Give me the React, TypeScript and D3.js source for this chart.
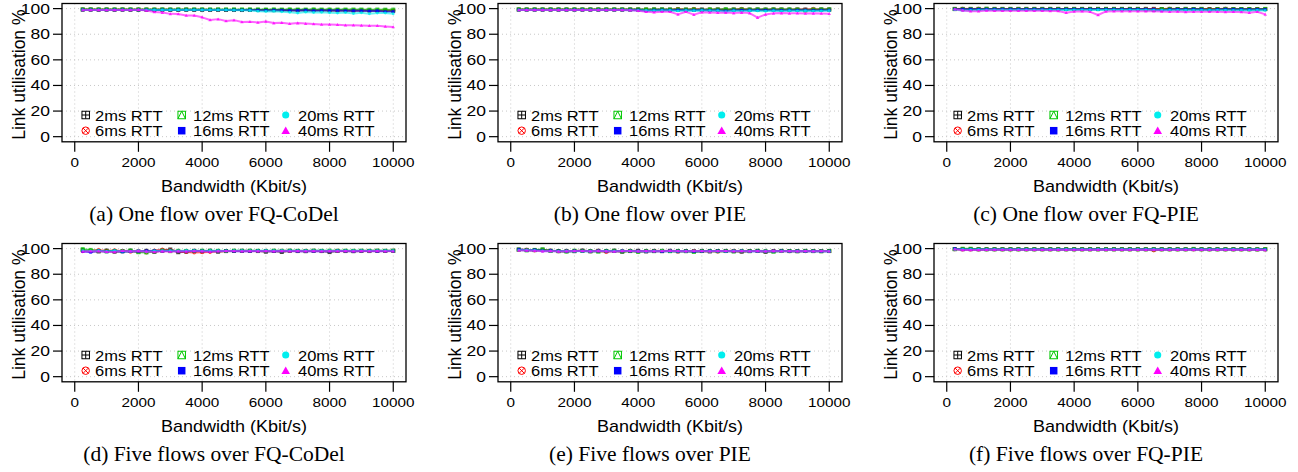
import React from "react";
import * as d3 from "d3";

// bandwidth steps (Kbit/s)
const bandwidth = [
  250, 500, 750, 1000, 1250, 1500, 1750, 2000, 2250, 2500,
  2750, 3000, 3250, 3500, 3750, 4000, 4250, 4500, 4750, 5000,
  5250, 5500, 5750, 6000, 6250, 6500, 6750, 7000, 7250, 7500,
  7750, 8000, 8250, 8500, 8750, 9000, 9250, 9500, 9750, 10000,
];

const rttLabels = ["2ms RTT", "6ms RTT", "12ms RTT", "16ms RTT", "20ms RTT", "40ms RTT"];
const rttColours = ["#000000", "#ff0000", "#00c800", "#0000ff", "#00eeee", "#ff00ff"];
const captions = [
  "(a) One flow over FQ-CoDel",
  "(b) One flow over PIE",
  "(c) One flow over FQ-PIE",
  "(d) Five flows over FQ-CoDel",
  "(e) Five flows over PIE",
  "(f) Five flows over FQ-PIE",
];
const xTicks = [0, 2000, 4000, 6000, 8000, 10000];
const yTicks = [0, 20, 40, 60, 80, 100];

// (a) one flow, FQ-CoDel
const a2 = [
  99.3, 99.3, 99.2, 99.3, 99.2, 99.3, 99.2, 99.2, 99.2, 99.1,
  99.2, 99.1, 99.1, 99.2, 99.1, 99.1, 99.0, 99.1, 99.0, 99.0,
  98.9, 99.0, 98.9, 98.9, 98.8, 98.9, 98.8, 98.8, 98.7, 98.8,
  98.7, 98.6, 98.7, 98.6, 98.5, 98.6, 98.5, 98.4, 98.5, 98.3,
];
const a6 = [
  99.2, 99.2, 99.2, 99.2, 99.1, 99.2, 99.1, 99.2, 99.1, 99.1,
  99.1, 99.1, 99.0, 99.1, 99.0, 99.1, 99.0, 99.0, 99.0, 98.9,
  99.0, 98.9, 98.9, 98.9, 98.8, 98.9, 98.8, 98.8, 98.8, 98.7,
  98.8, 98.7, 98.7, 98.6, 98.7, 98.6, 98.6, 98.5, 98.6, 98.5,
];
const a12 = [
  99.4, 99.4, 99.4, 99.4, 99.4, 99.4, 99.4, 99.4, 99.4, 99.4,
  99.4, 99.4, 99.4, 99.4, 99.4, 99.4, 99.4, 99.4, 99.4, 99.4,
  99.4, 99.4, 99.4, 99.3, 99.4, 99.3, 99.4, 99.3, 99.3, 99.4,
  99.3, 99.3, 99.3, 99.3, 99.3, 99.3, 99.2, 99.3, 99.2, 99.2,
];
const a16 = [
  99.0, 99.0, 99.0, 99.0, 99.0, 99.0, 99.0, 99.0, 99.0, 99.0,
  99.0, 99.0, 99.0, 99.0, 99.0, 99.0, 99.0, 99.0, 99.0, 98.9,
  98.9, 98.9, 98.8, 98.6, 98.8, 98.7, 98.5, 98.6, 98.8, 98.4,
  98.6, 98.5, 98.6, 98.3, 98.4, 98.3, 98.2, 98.3, 97.6, 97.7,
];
const a20 = [
  99.0, 99.0, 99.0, 99.0, 99.0, 99.0, 99.0, 99.0, 99.0, 99.0,
  99.0, 99.0, 99.0, 99.0, 99.0, 98.9, 98.9, 98.9, 98.9, 98.8,
  98.8, 98.5, 98.0, 97.8, 98.0, 97.5, 97.2, 96.6, 97.4, 97.0,
  97.2, 96.8, 96.5, 96.9, 96.2, 96.7, 96.0, 96.5, 96.6, 96.0,
];
const a40 = [
  99.0, 99.0, 99.0, 99.0, 99.0, 99.0, 99.0, 99.1, 98.5, 97.4,
  96.9, 95.9, 95.8, 94.7, 94.6, 93.2, 91.1, 91.8, 90.3, 91.0,
  89.5, 89.8, 89.2, 90.0, 88.7, 89.0, 88.2, 88.7, 88.3, 88.0,
  87.6, 87.6, 87.4, 87.1, 87.0, 86.9, 86.6, 86.7, 86.1, 85.6,
];

// (b) one flow, PIE
const b2 = [
  99.3, 99.3, 99.3, 99.3, 99.3, 99.3, 99.3, 99.3, 99.3, 99.3,
  99.3, 99.3, 99.3, 99.3, 99.3, 99.3, 99.2, 99.3, 99.3, 99.2,
  99.3, 99.2, 99.3, 99.3, 99.2, 99.3, 99.2, 99.3, 99.3, 99.2,
  99.3, 99.2, 99.3, 99.3, 99.2, 99.3, 99.3, 99.2, 99.3, 99.3,
];
const b6 = [
  99.2, 99.2, 99.2, 99.2, 99.2, 99.2, 99.2, 99.2, 99.2, 99.2,
  99.2, 99.2, 99.2, 99.2, 99.2, 99.2, 99.2, 99.2, 99.2, 99.2,
  99.8, 99.2, 99.8, 99.1, 99.2, 99.3, 99.1, 99.2, 99.8, 99.2,
  99.1, 99.2, 99.3, 99.2, 99.2, 99.3, 99.2, 99.8, 99.2, 99.3,
];
const b12 = [
  99.4, 99.4, 99.4, 99.4, 99.4, 99.4, 99.4, 99.4, 99.4, 99.4,
  99.4, 99.4, 99.4, 99.4, 99.4, 99.4, 99.4, 99.4, 99.4, 99.3,
  99.4, 99.3, 99.4, 99.0, 99.4, 99.3, 99.5, 99.3, 99.4, 99.3,
  99.4, 99.3, 99.4, 99.3, 99.4, 99.3, 98.5, 99.3, 99.4, 99.4,
];
const b16 = [
  99.0, 99.0, 99.0, 99.0, 99.0, 99.0, 99.0, 99.0, 99.0, 99.0,
  99.0, 99.0, 99.0, 99.0, 99.0, 98.9, 98.3, 98.8, 98.9, 98.8,
  98.9, 98.8, 98.7, 98.9, 98.5, 98.8, 98.2, 98.8, 98.7, 98.8,
  98.8, 98.7, 98.8, 98.6, 98.8, 98.7, 98.8, 98.6, 98.7, 98.8,
];
const b20 = [
  98.9, 98.9, 98.9, 98.9, 98.9, 98.9, 98.9, 98.9, 98.9, 98.9,
  98.9, 98.9, 98.9, 98.9, 98.8, 98.6, 98.5, 98.4, 98.5, 98.6,
  98.2, 98.5, 98.4, 98.5, 98.3, 98.4, 97.6, 98.4, 97.9, 98.3,
  98.2, 98.0, 98.3, 98.1, 98.3, 98.2, 98.3, 98.1, 98.2, 98.3,
];
const b40 = [
  99.0, 99.0, 99.0, 99.0, 99.0, 99.0, 99.0, 99.0, 99.0, 99.0,
  99.0, 99.0, 99.0, 99.0, 98.8, 98.3, 97.5, 97.2, 97.5, 97.6,
  95.5, 97.5, 95.3, 97.2, 97.0, 96.8, 96.9, 96.5, 96.9, 96.5,
  93.0, 95.5, 96.3, 96.5, 96.3, 96.4, 96.2, 96.3, 96.2, 96.0,
];

// (c) one flow, FQ-PIE
const c2 = [
  99.8, 99.8, 99.8, 99.8, 99.8, 99.8, 99.8, 99.8, 99.8, 99.8,
  99.8, 99.8, 99.8, 99.8, 99.8, 99.8, 99.8, 99.8, 99.8, 99.8,
  99.8, 99.8, 99.8, 99.8, 99.8, 99.8, 99.7, 99.8, 99.7, 99.8,
  99.7, 99.8, 99.7, 99.7, 99.8, 99.7, 99.7, 99.6, 99.7, 99.6,
];
const c6 = [
  99.7, 99.9, 99.7, 99.9, 99.7, 99.7, 99.7, 99.7, 99.7, 99.7,
  99.7, 99.7, 99.7, 99.7, 99.7, 99.7, 99.7, 99.7, 99.7, 99.7,
  99.7, 99.7, 99.7, 99.7, 99.8, 99.7, 99.7, 99.9, 99.7, 99.7,
  99.7, 99.7, 99.7, 99.7, 99.9, 99.7, 99.6, 99.7, 99.7, 99.6,
];
const c12 = [
  99.6, 99.6, 99.6, 99.6, 99.9, 99.6, 99.6, 99.6, 99.6, 99.6,
  99.6, 99.6, 99.6, 99.6, 99.6, 99.6, 99.6, 99.6, 99.6, 99.6,
  99.6, 99.6, 99.6, 99.6, 99.3, 99.0, 99.6, 99.6, 99.6, 99.6,
  99.6, 99.6, 99.2, 99.6, 99.6, 99.6, 99.6, 99.6, 99.5, 99.8,
];
const c16 = [
  99.5, 99.5, 99.5, 99.5, 99.5, 99.5, 99.5, 99.5, 99.5, 99.5,
  99.5, 99.5, 99.5, 99.5, 99.5, 99.5, 99.5, 99.5, 99.5, 99.5,
  99.5, 99.5, 99.5, 99.5, 99.5, 99.4, 98.8, 99.4, 99.5, 99.4,
  99.5, 99.4, 99.0, 99.4, 99.5, 99.4, 99.4, 99.3, 99.4, 99.3,
];
const c20 = [
  99.2, 98.6, 98.5, 98.8, 99.0, 99.0, 99.0, 99.0, 99.0, 99.0,
  99.0, 99.0, 99.0, 99.0, 99.0, 99.0, 99.0, 99.0, 99.0, 99.0,
  99.0, 99.0, 99.0, 99.0, 98.9, 98.8, 98.7, 98.8, 98.7, 98.8,
  98.7, 98.8, 98.7, 98.8, 98.7, 98.6, 98.7, 98.6, 98.8, 98.6,
];
const c40 = [
  99.5, 98.5, 98.0, 98.0, 98.5, 98.3, 98.3, 98.3, 98.3, 98.3,
  98.3, 98.3, 98.2, 98.2, 96.8, 97.8, 98.0, 97.5, 95.0, 97.8,
  98.0, 98.0, 98.0, 98.0, 98.0, 98.0, 97.8, 97.5, 97.7, 97.3,
  97.5, 97.5, 97.5, 97.5, 97.4, 97.5, 97.4, 96.8, 97.5, 95.5,
];

// (d) five flows, FQ-CoDel
const d2 = [
  98.8, 98.2, 97.8, 98.5, 97.6, 98.0, 98.4, 97.8, 98.3, 97.5,
  98.5, 99.3, 97.2, 97.6, 98.3, 97.9, 98.4, 97.6, 98.1, 98.2,
  98.3, 98.2, 98.1, 97.6, 98.2, 97.4, 98.3, 98.1, 98.0, 98.3,
  98.1, 97.3, 98.2, 98.1, 98.0, 98.2, 98.1, 98.3, 98.2, 98.3,
];
const d6 = [
  98.0, 98.6, 99.0, 98.2, 98.8, 98.0, 97.5, 98.2, 97.0, 98.5,
  99.3, 98.7, 98.0, 97.4, 97.0, 97.2, 97.3, 98.2, 98.0, 98.1,
  98.2, 98.3, 98.2, 98.1, 98.2, 98.3, 98.2, 98.1, 98.3, 98.2,
  98.1, 98.2, 98.3, 98.2, 98.2, 98.1, 98.3, 98.2, 98.2, 98.3,
];
const d12 = [
  99.6, 99.0, 98.2, 97.8, 98.2, 98.0, 98.5, 97.2, 97.0, 97.8,
  98.4, 98.0, 98.3, 98.2, 98.1, 98.4, 98.2, 98.3, 98.1, 98.4,
  98.3, 98.4, 98.3, 98.2, 98.4, 98.3, 98.4, 98.3, 98.2, 98.4,
  98.3, 98.4, 98.3, 98.4, 98.3, 98.4, 98.3, 98.4, 98.3, 98.4,
];
const d16 = [
  97.8, 97.2, 98.3, 97.6, 98.2, 97.5, 97.8, 98.0, 98.2, 98.3,
  98.1, 98.2, 98.0, 98.1, 98.2, 98.1, 98.0, 98.1, 98.2, 98.0,
  98.1, 98.0, 98.1, 98.2, 98.0, 98.1, 98.2, 98.0, 98.1, 98.0,
  98.1, 98.0, 98.2, 98.1, 98.0, 98.1, 98.2, 98.0, 98.1, 98.1,
];
const d20 = [
  98.4, 98.2, 98.3, 97.8, 98.4, 98.0, 97.9, 98.3, 97.6, 98.2,
  98.4, 98.3, 98.2, 98.4, 98.3, 98.2, 98.4, 98.3, 98.2, 98.3,
  98.4, 98.3, 98.4, 98.3, 98.4, 98.3, 98.4, 98.3, 98.4, 98.3,
  98.4, 98.3, 98.4, 98.3, 98.4, 98.3, 98.4, 98.3, 98.4, 98.3,
];
const d40 = [
  97.8, 97.9, 98.0, 97.6, 97.4, 98.3, 98.0, 98.2, 97.8, 97.4,
  97.9, 97.5, 98.0, 97.8, 98.2, 97.9, 97.6, 98.0, 98.1, 98.2,
  98.0, 98.1, 98.0, 98.1, 98.0, 98.1, 98.0, 98.1, 98.0, 98.1,
  98.0, 98.1, 98.0, 98.1, 98.0, 98.1, 98.0, 98.1, 98.0, 98.0,
];

// (e) five flows, PIE
const e2 = [
  99.3, 99.0, 98.8, 99.2, 98.4, 98.0, 98.2, 98.0, 98.5, 97.9,
  98.3, 98.0, 98.4, 97.6, 98.1, 98.3, 97.8, 98.2, 98.0, 98.3,
  97.9, 98.1, 98.0, 98.2, 97.8, 98.1, 98.2, 98.0, 97.6, 98.1,
  98.2, 97.5, 98.0, 98.2, 98.1, 98.0, 98.2, 98.1, 98.0, 98.1,
];
const e6 = [
  99.0, 99.2, 98.6, 98.8, 98.3, 98.0, 97.9, 98.2, 98.3, 98.0,
  98.3, 97.3, 98.2, 98.0, 98.4, 97.6, 98.1, 98.3, 98.2, 98.0,
  97.7, 98.2, 98.1, 98.0, 98.2, 97.6, 98.1, 98.3, 98.0, 98.2,
  98.1, 98.0, 98.2, 98.1, 98.0, 98.1, 98.0, 98.2, 98.1, 98.1,
];
const e12 = [
  99.2, 98.6, 99.0, 99.4, 98.2, 98.1, 97.6, 98.4, 98.2, 98.0,
  97.6, 98.2, 98.3, 97.8, 98.2, 97.4, 98.2, 98.0, 98.3, 98.0,
  98.2, 98.0, 97.4, 98.1, 98.2, 98.0, 98.1, 97.8, 98.2, 98.0,
  98.3, 98.0, 97.6, 98.2, 98.1, 98.0, 98.2, 98.1, 98.0, 98.2,
];
const e16 = [
  99.4, 98.8, 99.0, 98.3, 98.4, 98.1, 98.0, 98.2, 98.1, 98.0,
  98.2, 98.1, 98.0, 98.2, 98.1, 97.9, 98.0, 98.1, 97.8, 98.2,
  98.0, 98.1, 97.8, 98.0, 98.2, 98.1, 98.0, 98.1, 98.2, 98.0,
  98.1, 98.0, 98.1, 98.2, 98.0, 98.1, 98.0, 98.1, 98.0, 98.0,
];
const e20 = [
  98.8, 98.9, 98.5, 98.2, 98.0, 97.9, 98.2, 98.0, 98.1, 98.0,
  98.2, 98.1, 98.0, 98.1, 98.2, 98.0, 97.9, 98.1, 98.2, 98.0,
  98.1, 98.0, 98.2, 98.1, 98.0, 98.1, 98.0, 98.2, 98.1, 98.0,
  98.1, 98.0, 98.1, 98.0, 98.1, 98.0, 98.1, 98.0, 98.1, 98.0,
];
const e40 = [
  98.6, 98.5, 98.4, 98.0, 98.2, 97.8, 98.0, 98.2, 98.1, 98.0,
  98.2, 98.0, 97.8, 98.1, 98.2, 98.0, 98.1, 98.0, 98.2, 98.3,
  98.1, 98.0, 98.2, 98.1, 98.0, 98.1, 98.2, 98.0, 98.1, 98.0,
  98.1, 98.0, 98.1, 98.0, 98.1, 98.0, 98.1, 98.0, 98.1, 98.0,
];

// (f) five flows, FQ-PIE
const f2 = [
  99.6, 99.5, 99.5, 99.5, 99.5, 99.5, 99.5, 99.5, 99.5, 99.5,
  99.5, 99.5, 99.5, 99.5, 99.5, 99.5, 99.5, 99.5, 99.5, 99.5,
  99.5, 99.5, 99.5, 99.5, 99.5, 99.5, 99.5, 99.5, 99.5, 99.5,
  99.5, 99.5, 99.5, 99.5, 99.5, 99.5, 99.5, 99.5, 99.4, 99.5,
];
const f6 = [
  99.5, 99.4, 99.4, 99.4, 99.4, 99.4, 99.4, 99.4, 99.4, 99.4,
  99.4, 99.4, 99.4, 99.4, 99.4, 99.4, 99.4, 99.4, 99.4, 99.4,
  99.4, 99.4, 99.4, 99.4, 99.4, 98.6, 99.4, 99.4, 99.4, 99.4,
  99.4, 99.4, 99.4, 99.4, 99.4, 99.4, 99.4, 99.4, 99.4, 99.4,
];
const f12 = [
  99.6, 99.9, 99.9, 99.5, 99.5, 99.5, 99.5, 99.5, 99.5, 99.5,
  99.5, 99.5, 99.5, 99.5, 99.5, 99.5, 99.5, 99.5, 99.5, 99.5,
  99.5, 99.5, 99.5, 99.5, 99.5, 99.5, 99.5, 99.5, 99.5, 99.5,
  99.8, 99.5, 99.5, 99.5, 99.5, 99.5, 99.5, 99.5, 99.5, 99.6,
];
const f16 = [
  100.0, 99.4, 99.4, 99.4, 99.4, 99.4, 99.4, 99.4, 99.4, 99.4,
  99.4, 99.4, 99.4, 99.4, 99.4, 99.4, 99.4, 99.4, 99.4, 99.4,
  99.4, 99.4, 99.4, 99.4, 99.4, 99.4, 99.4, 99.4, 99.4, 99.4,
  99.4, 99.4, 99.4, 99.4, 99.4, 99.4, 99.4, 99.4, 99.4, 99.3,
];
const f20 = [
  99.4, 99.3, 99.3, 99.3, 99.3, 99.3, 99.3, 99.3, 99.3, 99.3,
  99.3, 99.3, 99.3, 99.3, 99.3, 99.3, 99.3, 99.3, 99.3, 99.3,
  99.3, 99.3, 99.3, 99.3, 99.3, 99.3, 99.3, 99.3, 99.3, 99.3,
  99.3, 99.3, 99.3, 99.3, 99.3, 99.3, 99.3, 99.3, 99.3, 99.2,
];
const f40 = [
  99.5, 99.0, 99.0, 99.0, 99.1, 99.1, 99.1, 99.1, 99.1, 99.1,
  99.1, 99.1, 99.1, 99.1, 99.1, 99.1, 99.1, 99.1, 99.1, 99.1,
  99.1, 99.1, 99.1, 99.1, 99.1, 99.1, 99.1, 99.1, 99.1, 99.1,
  99.1, 99.1, 99.1, 99.1, 99.1, 99.1, 99.1, 99.1, 99.1, 99.0,
];

const panelSeries = [
  [a2, a6, a12, a16, a20, a40],
  [b2, b6, b12, b16, b20, b40],
  [c2, c6, c12, c16, c20, c40],
  [d2, d6, d12, d16, d20, d40],
  [e2, e6, e12, e16, e20, e40],
  [f2, f6, f12, f16, f20, f40],
];

const W = 1298;
const H = 472;
const colLeft = [62, 498, 934];
const rowTop = [3.5, 243.5];
const boxW = 344;
const boxH = 138.3;
const SANS = "'Liberation Sans', Arial, Helvetica, sans-serif";
const SERIF = "'Liberation Serif', 'Times New Roman', serif";

// R-style plotting symbols: 12 (square+plus), 13 (circle+x), 14 (square+triangle), 15, 16, 17
function marker(kind: number, cx: number, cy: number, s: number, color: string, key?: string) {
  const h = s / 2;
  if (kind === 0) {
    return (
      <g key={key} stroke={color} fill="none" strokeWidth={1}>
        <rect x={cx - h} y={cy - h} width={s} height={s} />
        <path d={`M${cx - h},${cy}H${cx + h}M${cx},${cy - h}V${cy + h}`} />
      </g>
    );
  }
  if (kind === 1) {
    const r = h * 0.7;
    return (
      <g key={key} stroke={color} fill="none" strokeWidth={1}>
        <circle cx={cx} cy={cy} r={h} />
        <path d={`M${cx - r},${cy - r}L${cx + r},${cy + r}M${cx - r},${cy + r}L${cx + r},${cy - r}`} />
      </g>
    );
  }
  if (kind === 2) {
    return (
      <g key={key} stroke={color} fill="none" strokeWidth={1}>
        <rect x={cx - h} y={cy - h} width={s} height={s} />
        <path d={`M${cx - h},${cy + h}L${cx},${cy - h}L${cx + h},${cy + h}`} />
      </g>
    );
  }
  if (kind === 3) {
    return <rect key={key} x={cx - h} y={cy - h} width={s} height={s} fill={color} />;
  }
  if (kind === 4) {
    return <circle key={key} cx={cx} cy={cy} r={h * 0.95} fill={color} />;
  }
  const t = h * 1.15;
  return (
    <path
      key={key}
      d={`M${cx},${cy - t}L${cx + t},${cy + t * 0.75}L${cx - t},${cy + t * 0.75}Z`}
      fill={color}
    />
  );
}

function Panel({ index }: { index: number }) {
  const left = colLeft[index % 3];
  const top = rowTop[Math.floor(index / 3)];
  const bottom = top + boxH;
  const x = d3.scaleLinear().domain([-400, 10400]).range([left, left + boxW]);
  const y = d3.scaleLinear().domain([-4, 104]).range([bottom, top]);
  const line = d3
    .line<number>()
    .x((_, i) => x(bandwidth[i]))
    .y((d) => y(d));

  const legendCols = [
    { mx: 23.7, tx: 33 },
    { mx: 119.7, tx: 131 },
    { mx: 223.7, tx: 236 },
  ];
  const legendRows = [
    { my: bottom - 26.8, ty: bottom - 21.1 },
    { my: bottom - 11.1, ty: bottom - 5.8 },
  ];

  return (
    <g>
      {/* grid */}
      <g stroke="#c8c8c8" strokeWidth={1} strokeDasharray="1,3">
        {xTicks.map((t) => (
          <line key={"gx" + t} x1={x(t)} x2={x(t)} y1={top} y2={bottom} />
        ))}
        {yTicks.map((t) => (
          <line key={"gy" + t} x1={left} x2={left + boxW} y1={y(t)} y2={y(t)} />
        ))}
      </g>

      {/* series */}
      {panelSeries[index].map((vals, si) => (
        <g key={"s" + si}>
          <path
            d={line(vals) || ""}
            fill="none"
            stroke={rttColours[si]}
            strokeWidth={2}
            strokeOpacity={0.6}
            strokeLinejoin="round"
          />
          <g opacity={0.75}>
            {vals.map((v, i) => marker(si, x(bandwidth[i]), y(v), 3, rttColours[si], "m" + i))}
          </g>
        </g>
      ))}

      {/* box */}
      <rect x={left} y={top} width={boxW} height={boxH} fill="none" stroke="#000" strokeWidth={1.3} />

      {/* x axis */}
      {xTicks.map((t) => (
        <g key={"xt" + t}>
          <line x1={x(t)} x2={x(t)} y1={bottom} y2={bottom + 10} stroke="#000" strokeWidth={1.2} />
          <text
            transform={`translate(${x(t)},${bottom + 25}) scale(1,0.8)`}
            textAnchor="middle"
            fontFamily={SANS}
            fontSize={15.3}
          >
            {t}
          </text>
        </g>
      ))}
      <text
        transform={`translate(${left + boxW / 2},${bottom + 50}) scale(1,0.93)`}
        textAnchor="middle"
        fontFamily={SANS}
        fontSize={18}
      >
        Bandwidth (Kbit/s)
      </text>

      {/* y axis */}
      {yTicks.map((t) => (
        <g key={"yt" + t}>
          <line x1={left - 9} x2={left} y1={y(t)} y2={y(t)} stroke="#000" strokeWidth={1.2} />
          <text
            transform={`translate(${left - 12},${y(t) + 5}) scale(1,0.8)`}
            textAnchor="end"
            fontFamily={SANS}
            fontSize={17.5}
          >
            {t}
          </text>
        </g>
      ))}
      <text
        transform={`translate(${left - 37},${(top + bottom) / 2 + 2}) rotate(-90)`}
        textAnchor="middle"
        fontFamily={SANS}
        fontSize={17.5}
      >
        Link utilisation %
      </text>

      {/* legend, 3 columns filled by column */}
      {rttLabels.map((lab, si) => {
        const c = legendCols[Math.floor(si / 2)];
        const r = legendRows[si % 2];
        return (
          <g key={"lg" + si}>
            {marker(si, left + c.mx, r.my, 7.5, rttColours[si])}
            <text
              transform={`translate(${left + c.tx},${r.ty}) scale(1,0.9)`}
              fontFamily={SANS}
              fontSize={16.5}
            >
              {lab}
            </text>
          </g>
        );
      })}

      {/* caption */}
      <text
        x={left + 152}
        y={Math.floor(index / 3) === 0 ? 221 : 461}
        textAnchor="middle"
        fontFamily={SERIF}
        fontSize={21.5}
      >
        {captions[index]}
      </text>
    </g>
  );
}

export default function App() {
  return (
    <svg
      width={W}
      height={H}
      style={{ position: "absolute", left: 0, top: 0, background: "#fff" }}
    >
      {captions.map((_, i) => (
        <Panel key={i} index={i} />
      ))}
    </svg>
  );
}
